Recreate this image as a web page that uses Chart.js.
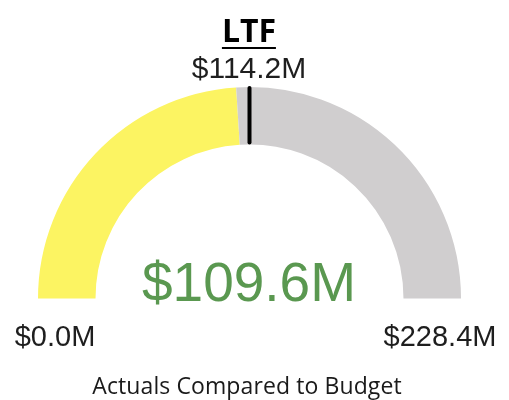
<!DOCTYPE html>
<html>
<head>
<meta charset="utf-8">
<script src="https://cdn.jsdelivr.net/npm/chart.js@4"></script>
<style>
  html, body { margin: 0; padding: 0; background: #fff; }
  #wrap { position: relative; width: 509px; height: 400px; overflow: hidden; }
  #gauge { position: absolute; left: 0; top: 0; }
  .lbl { position: absolute; white-space: nowrap; line-height: 1; }
  .lbl.c { transform: translateX(-50%); }
  #title { left: 249px; top: 8px; font: bold 32px "Open Sans", sans-serif; color: #000; }
  #title span { display: inline-block; border-bottom: 2.5px solid #000; line-height: 34px; }
  #budget { left: 249px; top: 51px; font: 30px "Liberation Sans", Arial, sans-serif; color: #1e1e1e; }
  #actual { left: 249px; top: 250px; font: 55px "Liberation Sans", Arial, sans-serif; color: #5a9850; }
  #minLbl { left: 55px; top: 320px; font: 29px "Liberation Sans", Arial, sans-serif; color: #1e1e1e; }
  #maxLbl { left: 440px; top: 320px; font: 29px "Liberation Sans", Arial, sans-serif; color: #1e1e1e; }
  #caption { left: 247px; top: 369px; font: 23px "Open Sans", sans-serif; color: #1a1a1a; letter-spacing: 0.1px; }
</style>
</head>
<body>
<div id="wrap">
  <canvas id="gauge" width="509" height="400"></canvas>
  <div class="lbl c" id="title"><span>LTF</span></div>
  <div class="lbl c" id="budget"></div>
  <div class="lbl c" id="actual"></div>
  <div class="lbl c" id="minLbl"></div>
  <div class="lbl c" id="maxLbl"></div>
  <div class="lbl c" id="caption">Actuals Compared to Budget</div>
</div>
<script>
  // values in $M
  const categories = ['Actuals', 'Remaining'];
  const gaugeValues = [109.6, 118.8];
  const actualValue = 109.6;
  const budgetValue = 114.2;
  const gaugeMax = 228.4;
  const tickLabels = ['$0.0M', '$228.4M'];
  const colors = ['#fcf462', '#d0cecf'];

  const fmt = v => '$' + v.toFixed(1) + 'M';
  document.getElementById('budget').textContent = fmt(budgetValue);
  document.getElementById('actual').textContent = fmt(actualValue);
  document.getElementById('minLbl').textContent = tickLabels[0];
  document.getElementById('maxLbl').textContent = tickLabels[1];

  // black tick at the budget position
  const budgetMarker = {
    id: 'budgetMarker',
    afterDatasetsDraw(chart) {
      const arc = chart.getDatasetMeta(0).data[0];
      if (!arc) return;
      const ang = -Math.PI + Math.PI * (budgetValue / gaugeMax);
      const ctx = chart.ctx;
      ctx.save();
      ctx.strokeStyle = '#000';
      ctx.lineWidth = 4;
      ctx.lineCap = 'round';
      ctx.beginPath();
      ctx.moveTo(arc.x + Math.cos(ang) * (arc.outerRadius - 1), arc.y + Math.sin(ang) * (arc.outerRadius - 1));
      ctx.lineTo(arc.x + Math.cos(ang) * (arc.innerRadius + 2), arc.y + Math.sin(ang) * (arc.innerRadius + 2));
      ctx.stroke();
      ctx.restore();
    }
  };

  new Chart(document.getElementById('gauge'), {
    type: 'doughnut',
    data: {
      labels: categories,
      datasets: [{
        data: gaugeValues,
        backgroundColor: colors,
        borderWidth: 0
      }]
    },
    options: {
      responsive: false,
      animation: false,
      rotation: -90,
      circumference: 180,
      cutout: '72.8%',
      layout: { padding: { left: 38, right: 48, top: 87, bottom: 101.5 } },
      plugins: {
        legend: { display: false },
        tooltip: { enabled: false }
      }
    },
    plugins: [budgetMarker]
  });
</script>
</body>
</html>
